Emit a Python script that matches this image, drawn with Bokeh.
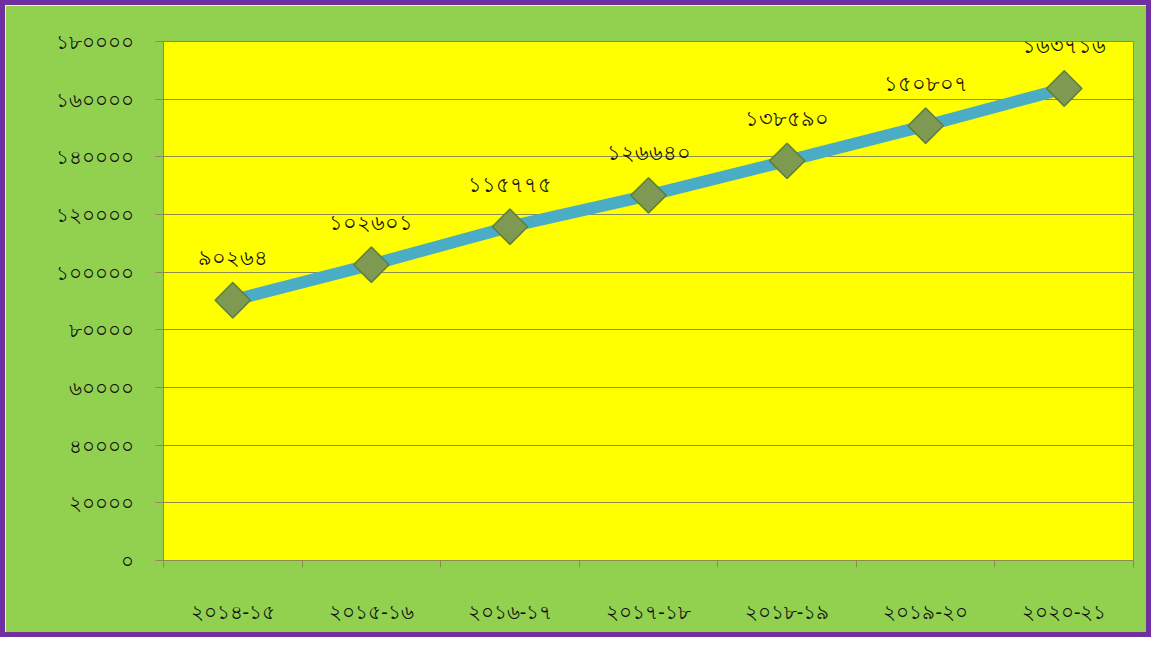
from bokeh.plotting import figure
from bokeh.models import ColumnDataSource, FixedTicker, LabelSet
from bokeh.embed import file_html
from bokeh.resources import INLINE
import math

categories = ["২০১৪-১৫", "২০১৫-১৬", "২০১৬-১৭", "২০১৭-১৮", "২০১৮-১৯", "২০১৯-২০", "২০২০-২১"]
values = [90264, 102601, 115775, 126640, 138590, 150807, 163716]
value_labels = ["৯০২৬৪", "১০২৬০১", "১১৫৭৭৫", "১২৬৬৪০", "১৩৮৫৯০", "১৫০৮০৭", "১৬৩৭১৬"]
y_ticks = [0, 20000, 40000, 60000, 80000, 100000, 120000, 140000, 160000, 180000]
y_tick_labels = ["০", "২০০০০", "৪০০০০", "৬০০০০", "৮০০০০", "১০০০০০", "১২০০০০", "১৪০০০০", "১৬০০০০", "১৮০০০০"]

xpos = [i + 0.5 for i in range(len(categories))]
src = ColumnDataSource(dict(x=xpos, y=values, lab=value_labels))

FONT = "Noto Sans"
GRID = "#8C8C50"

p = figure(width=1151, height=637, output_backend="svg", toolbar_location=None,
           x_range=(0, len(categories)), y_range=(0, 180000),
           min_border_left=158, min_border_right=23, min_border_top=36, min_border_bottom=82)
p.background_fill_color = "#FFFF00"
p.border_fill_color = "#92D050"
p.outline_line_color = GRID
p.outline_line_width = 1
p.styles = {"border": "5px solid #7030A0", "box-sizing": "border-box"}

# x axis
p.xaxis.ticker = FixedTicker(ticks=xpos, minor_ticks=list(range(len(categories) + 1)))
p.xaxis.major_label_overrides = {x: c for x, c in zip(xpos, categories)}
p.xaxis.major_tick_line_color = None
p.xaxis.minor_tick_line_color = GRID
p.xaxis.minor_tick_in = 0
p.xaxis.minor_tick_out = 7
p.xaxis.axis_line_color = GRID
p.xaxis.major_label_standoff = 30
p.xaxis.major_label_text_font = FONT
p.xaxis.major_label_text_font_size = "20px"
p.xaxis.major_label_text_color = "#111111"
p.xgrid.grid_line_color = None

# y axis
p.yaxis.ticker = FixedTicker(ticks=y_ticks, minor_ticks=[])
p.yaxis.major_label_overrides = {t: l for t, l in zip(y_ticks, y_tick_labels)}
p.yaxis.major_tick_line_color = GRID
p.yaxis.major_tick_in = 0
p.yaxis.major_tick_out = 8
p.yaxis.axis_line_color = GRID
p.yaxis.major_label_standoff = 22
p.yaxis.major_label_text_font = FONT
p.yaxis.major_label_text_font_size = "20px"
p.yaxis.major_label_text_color = "#111111"
p.ygrid.grid_line_color = GRID
p.ygrid.grid_line_width = 1

p.line("x", "y", source=src, line_color="#4BACC6", line_width=12)
p.scatter("x", "y", source=src, marker="square", size=25, angle=math.pi / 4,
          fill_color="#7E9A52", line_color="#5E7D3E", line_width=1.5)

labels = LabelSet(x="x", y="y", text="lab", source=src, y_offset=42,
                  text_align="center", text_baseline="middle",
                  text_font=FONT, text_font_size="21px", text_color="#111111")
p.add_layout(labels)

open("out.html", "w").write(file_html(p, INLINE))
